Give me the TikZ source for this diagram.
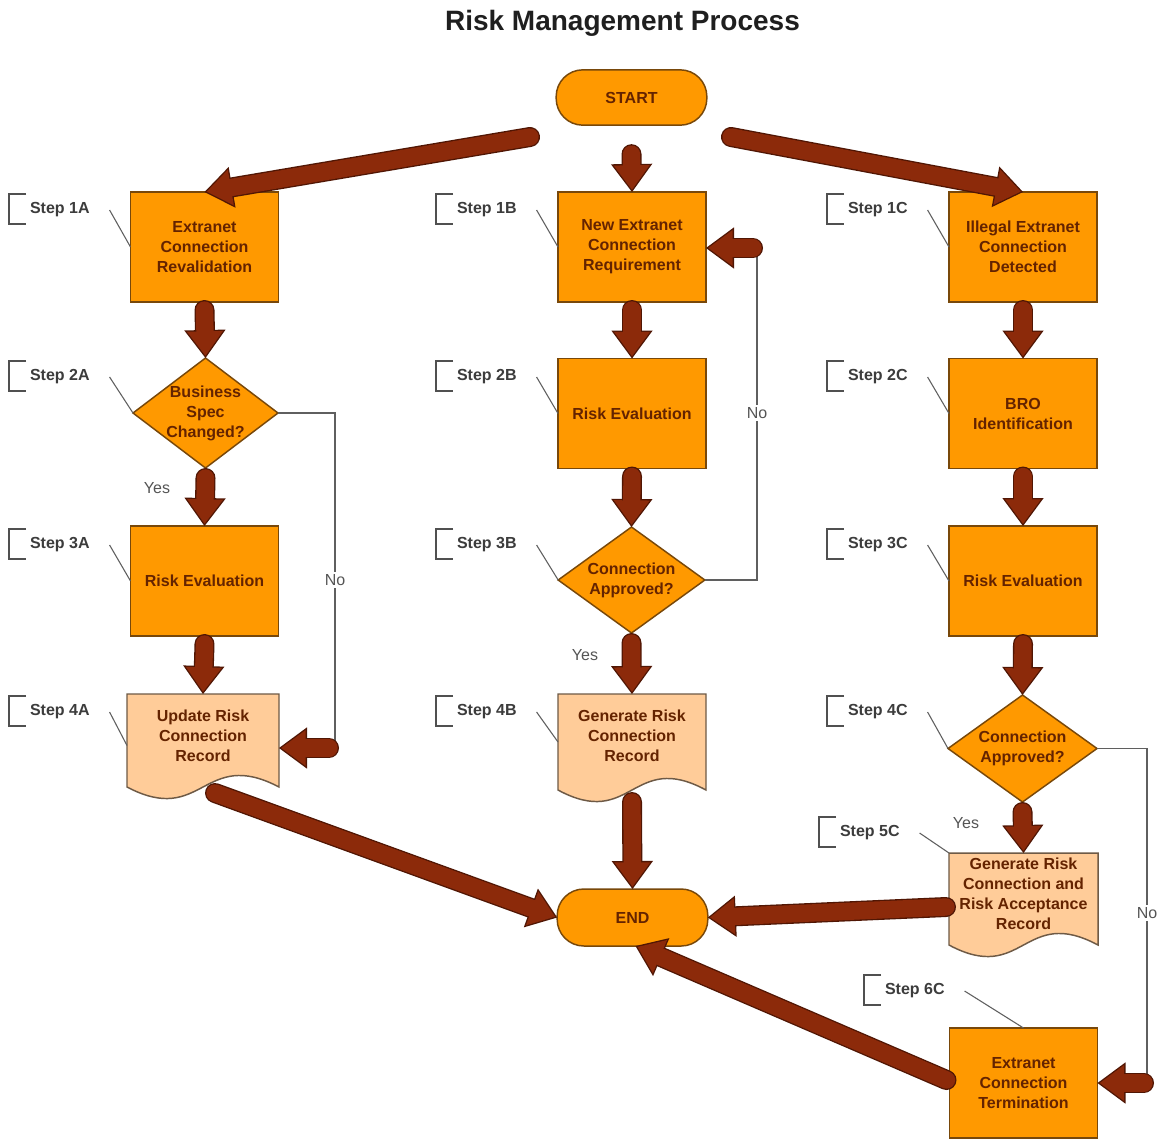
\documentclass[tikz,border=0pt]{standalone}
\usepackage{fontspec}
\setmainfont{Liberation Sans}
\usetikzlibrary{arrows.meta,shapes.geometric,calc,backgrounds}
\definecolor{boxfill}{RGB}{255,153,0}
\definecolor{boxline}{RGB}{120,72,10}
\definecolor{docfill}{RGB}{255,204,153}
\definecolor{docline}{RGB}{110,90,70}
\definecolor{txtcol}{RGB}{100,35,0}
\definecolor{arrfill}{RGB}{140,42,10}
\definecolor{arrline}{RGB}{80,22,4}
\definecolor{stepcol}{RGB}{60,60,60}
\definecolor{bracketcol}{RGB}{80,80,80}
\definecolor{leadercol}{RGB}{95,95,95}
\definecolor{yncol}{RGB}{85,85,85}
\newcommand\mydocshape[1]{%
  \path[docshape] (#1.north west) -- (#1.north east) -- (#1.south east)
    .. controls ($(#1.south)+(0,-40)$) and ($(#1.south)+(0,40)$) .. (#1.south west) -- cycle;}
\newcommand\steplab[4]{%
  \node[steptext, anchor=west] (#1) at (#2,#3) {#4};
  \draw[bracket] ($(#1.west)+(-4,-16)$) -- ($(#1.west)+(-21,-16)$) -- ($(#1.west)+(-21,14)$) -- ($(#1.west)+(-4,14)$);}
\begin{document}
\begin{tikzpicture}[x=0.75pt,y=-0.75pt,
  every node/.style={outer sep=0pt},
  nodefont/.style={font=\bfseries\fontsize{12}{15}\selectfont, text=txtcol, align=center},
  box/.style={draw=boxline, fill=boxfill, line width=1.1pt, minimum width=111pt, minimum height=82.5pt, inner sep=2pt, nodefont},
  term/.style={draw=boxline, fill=boxfill, line width=1.1pt, rounded corners=20pt, minimum width=113pt, minimum height=41.5pt, nodefont},
  dia/.style={diamond, draw=boxline, fill=boxfill, line width=1.1pt, inner sep=0pt},
  dtext/.style={nodefont, inner sep=0pt},
  docnode/.style={inner sep=0pt},
  docshape/.style={draw=docline, fill=docfill, line width=1.1pt},
  steptext/.style={font=\bfseries\fontsize{12}{14}\selectfont, text=stepcol, inner sep=0pt},
  bracket/.style={draw=bracketcol, line width=1.1pt},
  leader/.style={draw=leadercol, line width=0.8pt},
  flow/.style={draw=leadercol, line width=1.1pt},
  yn/.style={font=\fontsize{12}{14}\selectfont, text=yncol, inner sep=1.5pt},
  bigarrow/.style={draw=arrfill, line width=13pt, line cap=round, shorten >=1.7pt,
    -{Triangle[length=18.3pt,width=27pt,line width=0pt]},
    preaction={draw=arrline, line width=15pt, line cap=round, shorten >=0pt,
      -{Triangle[length=21pt,width=31pt,line width=0pt]}}}
]
\useasboundingbox (0,0) rectangle (1159,1140);

% title
\node[font=\bfseries\fontsize{21}{24}\selectfont, text=black!88, anchor=base, inner sep=0pt] (title) at (622.5,30) {Risk Management Process};

% terminals
\node[term] (start) at (631.5,97.5) {START};
\node[term, minimum height=42.75pt] (end) at (632.5,917.5) {END};

% column A
\node[box] (n1a) at (204.5,247) {Extranet\\Connection\\Revalidation};
\node[dia, minimum width=108.75pt, minimum height=82.5pt,
  label={[dtext]center:{Business\\Spec\\Changed?}}] (d2a) at (205.5,413) {};
\node[box] (n3a) at (204.5,581) {Risk Evaluation};
\node[docnode, minimum width=114pt, minimum height=69.75pt,
  label={[dtext,yshift=3.5pt]center:{Update Risk\\Connection\\Record}}] (doc4a) at (203,740.5) {};

% column B
\node[box] (n1b) at (632,247) {New Extranet\\Connection\\Requirement};
\node[box] (n2b) at (632,413.5) {Risk Evaluation};
\node[dia, minimum width=110pt, minimum height=79.5pt,
  label={[dtext]center:{Connection\\Approved?}}] (d3b) at (631.5,580) {};
\node[docnode, minimum width=111pt, minimum height=72pt,
  label={[dtext,yshift=4.5pt]center:{Generate Risk\\Connection\\Record}}] (doc4b) at (632,742) {};

% column C
\node[box] (n1c) at (1023,247) {Illegal Extranet\\Connection\\Detected};
\node[box] (n2c) at (1023,413.5) {BRO\\Identification};
\node[box] (n3c) at (1023,581) {Risk Evaluation};
\node[dia, minimum width=111.75pt, minimum height=80.25pt,
  label={[dtext]center:{Connection\\Approved?}}] (d4c) at (1022.5,748.5) {};
\node[docnode, minimum width=111.75pt, minimum height=69pt,
  label={[dtext,yshift=3.75pt]center:{Generate Risk\\Connection and\\Risk Acceptance\\Record}}] (doc5c) at (1023.5,899) {};
\node[box] (n6c) at (1023.5,1083) {Extranet\\Connection\\Termination};

% step labels
\steplab{s1a}{30}{210}{Step 1A}
\steplab{s2a}{30}{377}{Step 2A}
\steplab{s3a}{30}{545}{Step 3A}
\steplab{s4a}{30}{712}{Step 4A}
\steplab{s1b}{457}{210}{Step 1B}
\steplab{s2b}{457}{377}{Step 2B}
\steplab{s3b}{457}{545}{Step 3B}
\steplab{s4b}{457}{712}{Step 4B}
\steplab{s1c}{848}{210}{Step 1C}
\steplab{s2c}{848}{377}{Step 2C}
\steplab{s3c}{848}{545}{Step 3C}
\steplab{s4c}{848}{712}{Step 4C}
\steplab{s5c}{840}{833}{Step 5C}
\steplab{s6c}{885}{991}{Step 6C}

% leader lines
\draw[leader] ($(s1a.east)+(20,0)$) -- (n1a.west);
\draw[leader] ($(s2a.east)+(20,0)$) -- (d2a.west);
\draw[leader] ($(s3a.east)+(20,0)$) -- (n3a.west);
\draw[leader] ($(s4a.east)+(20,0)$) -- ($(doc4a.west)+(0,5)$);
\draw[leader] ($(s1b.east)+(20,0)$) -- (n1b.west);
\draw[leader] ($(s2b.east)+(20,0)$) -- (n2b.west);
\draw[leader] ($(s3b.east)+(20,0)$) -- (d3b.west);
\draw[leader] ($(s4b.east)+(20,0)$) -- (doc4b.west);
\draw[leader] ($(s1c.east)+(20,0)$) -- (n1c.west);
\draw[leader] ($(s2c.east)+(20,0)$) -- (n2c.west);
\draw[leader] ($(s3c.east)+(20,0)$) -- (n3c.west);
\draw[leader] ($(s4c.east)+(20,0)$) -- (d4c.west);
\draw[leader] ($(s5c.east)+(20,0)$) -- (doc5c.north west);
\draw[leader] ($(s6c.east)+(20,0)$) -- (n6c.north);

% loop-back lines
\coordinate (k2a) at (335,748);
\coordinate (k1b) at (757,248);
\coordinate (k6c) at (1147,1083);
\draw[flow] (d2a.east) -| (k2a);
\draw[flow] (d3b.east) -| (k1b);
\draw[flow] (d4c.east) -| (k6c);

% yes / no
\node[yn] (yes2a) at (157,488) {Yes};
\node[yn] (yes3b) at (585,655) {Yes};
\node[yn] (yes4c) at (966,823) {Yes};
\node[yn, fill=white] (no2a) at (335,580) {No};
\node[yn, fill=white] (no3b) at (757,413) {No};
\node[yn, fill=white] (no4c) at (1147,913) {No};

% big arrows
\coordinate (t1a) at (530,137);
\coordinate (t1c) at (731,137);
\coordinate (t4a) at (215,793);
\draw[bigarrow] (t1a) -- (n1a.north);
\draw[bigarrow] ($(start.south)+(0,29)$) -- (n1b.north);
\draw[bigarrow] (t1c) -- (n1c.north);

\draw[bigarrow] ($(n1a.south)+(0,8)$) -- (d2a.north);
\draw[bigarrow] ($(d2a.south)+(0,10)$) -- (n3a.north);
\draw[bigarrow] ($(n3a.south)+(0,8)$) -- (doc4a.north);
\draw[bigarrow] ($(k2a)+(-6,0)$) -- (k2a -| doc4a.east);
\draw[bigarrow] (t4a) -- (end.west);

\draw[bigarrow] ($(n1b.south)+(0,8)$) -- (n2b.north);
\draw[bigarrow] ($(n2b.south)+(0,8)$) -- (d3b.north);
\draw[bigarrow] ($(d3b.south)+(0,10)$) -- (doc4b.north);
\draw[bigarrow] ($(k1b)+(-4,0)$) -- (k1b -| n1b.east);
\draw[bigarrow] ($(doc4b.south)+(0,12)$) -- (end.north);

\draw[bigarrow] ($(n1c.south)+(0,8)$) -- (n2c.north);
\draw[bigarrow] ($(n2c.south)+(0,8)$) -- (n3c.north);
\draw[bigarrow] ($(n3c.south)+(0,8)$) -- (d4c.north);
\draw[bigarrow] ($(d4c.south)+(0,10)$) -- (doc5c.north);
\draw[bigarrow] ($(k6c)+(-3,0)$) -- (k6c -| n6c.east);
\draw[bigarrow] ($(doc5c.west)+(-3,8)$) -- (end.east);
\draw[bigarrow] ($(n6c.west)+(-3,-3)$) -- ($(end.south)+(3,0)$);

% background: page and document shapes
\begin{scope}[on background layer]
  \fill[white] (0,0) rectangle (1159,1140);
  \mydocshape{doc4a}
  \mydocshape{doc4b}
  \mydocshape{doc5c}
\end{scope}
\end{tikzpicture}
\end{document}
